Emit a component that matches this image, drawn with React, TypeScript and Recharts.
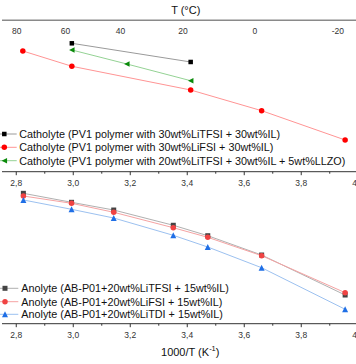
import { LineChart, Line, XAxis, YAxis, Legend } from "recharts";

const FONT = "'Liberation Sans', Arial, sans-serif";

const cathTfsiX = [2.995, 3.412];
const cathTfsiY = [-3.456, -3.826];
const cathFsiX = [2.823, 2.995, 3.412, 3.661, 3.954];
const cathFsiY = [-3.608, -3.911, -4.381, -4.791, -5.372];
const cathLlzoX = [2.995, 3.188, 3.412];
const cathLlzoY = [-3.588, -3.866, -4.197];

const anoX = [2.825, 2.994, 3.142, 3.351, 3.472, 3.661, 3.954];
const anoTfsiY = [-3.15, -3.312, -3.451, -3.726, -3.914, -4.262, -4.983];
const anoFsiY = [-3.198, -3.33, -3.492, -3.77, -3.943, -4.274, -4.941];
const anoTdiY = [-3.27, -3.438, -3.595, -3.907, -4.118, -4.491, -5.24];

const invTicks = [2.8, 2.9, 3.0, 3.1, 3.2, 3.3, 3.4, 3.5, 3.6, 3.7, 3.8, 3.9, 4.0];
const tempTicks = [80, 60, 40, 20, 0, -20];

const toPts = (xs: number[], ys: number[]) => xs.map((x, i) => ({ x, y: ys[i] }));

type Shape = "square" | "circle" | "triLeft" | "triUp";
interface Series {
  name: string;
  data: { x: number; y: number }[];
  shape: Shape;
  size: number;
  fill: string;
  line: string;
}

const catholyte: Series[] = [
  { name: "Catholyte (PV1 polymer with 30wt%LiTFSI + 30wt%IL)", data: toPts(cathTfsiX, cathTfsiY), shape: "square", size: 4.5, fill: "#000000", line: "#9a9a9a" },
  { name: "Catholyte (PV1 polymer with 30wt%LiFSI + 30wt%IL)", data: toPts(cathFsiX, cathFsiY), shape: "circle", size: 5.5, fill: "#ff0000", line: "#ff9494" },
  { name: "Catholyte (PV1 polymer with 20wt%LiTFSI + 30wt%IL + 5wt%LLZO)", data: toPts(cathLlzoX, cathLlzoY), shape: "triLeft", size: 5.5, fill: "#0a8a0a", line: "#94d294" },
];

const anolyte: Series[] = [
  { name: "Anolyte (AB-P01+20wt%LiTFSI + 15wt%IL)", data: toPts(anoX, anoTfsiY), shape: "square", size: 5, fill: "#444444", line: "#b0b0b0" },
  { name: "Anolyte (AB-P01+20wt%LiFSI + 15wt%IL)", data: toPts(anoX, anoFsiY), shape: "circle", size: 5.5, fill: "#f04343", line: "#f5a3a3" },
  { name: "Anolyte (AB-P01+20wt%LiTDI + 15wt%IL)", data: toPts(anoX, anoTdiY), shape: "triUp", size: 6, fill: "#1f6fe6", line: "#9cc1f0" },
];

function Marker({ shape, cx, cy, size, fill }: { shape: Shape; cx: number; cy: number; size: number; fill: string }) {
  const h = size / 2;
  if (shape === "square") return <rect x={cx - h} y={cy - h} width={size} height={size} fill={fill} />;
  if (shape === "circle") return <circle cx={cx} cy={cy} r={h} fill={fill} />;
  if (shape === "triLeft")
    return <polygon points={`${cx - h},${cy} ${cx + h},${cy - h} ${cx + h},${cy + h}`} fill={fill} />;
  return <polygon points={`${cx},${cy - h} ${cx + h},${cy + h} ${cx - h},${cy + h}`} fill={fill} />;
}

const fmtInv = (v: number) => (Math.abs(v - 4) < 1e-6 ? "4,0" : v.toFixed(1).replace(".", ","));

function InvTick({ x, y, payload }: any) {
  const v = payload.value as number;
  const major = Math.round(v * 10) % 2 === 0;
  return (
    <g>
      <line x1={x} y1={y} x2={x} y2={y + (major ? 3.5 : 2)} stroke="#333" strokeWidth={1} />
      {major && (
        <text x={x} y={y + 14} textAnchor="middle" fontSize={8.5} fill="#333" fontFamily={FONT}>
          {fmtInv(v)}
        </text>
      )}
    </g>
  );
}

// labels of the top temperature axis sit just below its line
function TempTick({ x, payload }: any) {
  const t = Math.round(1000 / payload.value - 273.15);
  return (
    <text x={x} y={33.7} textAnchor="middle" fontSize={8.5} fill="#333" fontFamily={FONT}>
      {t}
    </text>
  );
}

function makeLegend(series: Series[], markerX: number, lineEnd: number, textX: number, rows: number[]) {
  return () => (
    <svg width={340} height={42} style={{ overflow: "visible" }}>
      {series.map((s, i) => (
        <g key={s.name}>
          <line x1={-8} y1={rows[i]} x2={lineEnd} y2={rows[i]} stroke={s.line} strokeWidth={1} />
          <Marker shape={s.shape} cx={markerX} cy={rows[i]} size={s.size} fill={s.fill} />
          <text x={textX} y={rows[i] + 3.9} fontSize={10.8} fill="#111" fontFamily={FONT}>
            {s.name}
          </text>
        </g>
      ))}
    </svg>
  );
}

function renderLines(series: Series[], xAxisId: string) {
  return series.map((s) => (
    <Line
      key={s.name}
      xAxisId={xAxisId}
      data={s.data}
      dataKey="y"
      name={s.name}
      stroke={s.line}
      strokeWidth={1}
      isAnimationActive={false}
      dot={(p: any) => <Marker key={p.index} shape={s.shape} cx={p.cx} cy={p.cy} size={s.size} fill={s.fill} />}
      activeDot={false}
    />
  ));
}

const tempTickVals = tempTicks.map((t) => 1000 / (t + 273.15));
// invisible carrier so the temperature axis gets a scale and ticks
const tempAxisData = tempTickVals.map((x) => ({ x, y: -6 }));

export default function App() {
  return (
    <div
      style={{
        position: "fixed",
        left: 0,
        top: 0,
        width: 356,
        height: 364,
        overflow: "hidden",
        background: "#fff",
        fontFamily: FONT,
      }}
    >
      <div style={{ position: "absolute", left: 2, top: 0 }}>
        <LineChart width={370.5} height={191.7} margin={{ top: 0, right: 0, bottom: 0, left: 0 }}>
          <XAxis
            xAxisId="T"
            orientation="top"
            type="number"
            dataKey="x"
            domain={[2.7802, 4.0712]}
            allowDataOverflow
            ticks={tempTickVals}
            height={20.3}
            tickSize={0}
            tickMargin={0}
            tickLine={false}
            axisLine={{ stroke: "#8a8a8a", strokeWidth: 1.5 }}
            tick={<TempTick />}
            interval={0}
            label={{
              content: (p: any) => {
                const vb = p.viewBox || { x: 0, width: 370.5 };
                return (
                  <text x={vb.x + vb.width / 2 - 1.5} y={14.5} textAnchor="middle" fontSize={11} fill="#111" fontFamily={FONT}>
                    T (°C)
                  </text>
                );
              },
            }}
          />
          <XAxis
            xAxisId="inv"
            type="number"
            dataKey="x"
            domain={[2.75, 4.05]}
            allowDataOverflow
            ticks={invTicks}
            interval={0}
            height={20}
            tickSize={0}
            tickMargin={0}
            tickLine={false}
            axisLine={{ stroke: "#333", strokeWidth: 1 }}
            tick={<InvTick />}
          />
          <YAxis type="number" domain={[-6, -3]} hide allowDataOverflow />
          <Legend
            layout="vertical"
            align="center"
            verticalAlign="middle"
            wrapperStyle={{ left: -2, top: 127, width: 340, height: 42 }}
            content={makeLegend(catholyte, 4.3, 16.7, 19.3, [7, 20.3, 33.7])}
          />
          <Line
            xAxisId="T"
            data={tempAxisData}
            dataKey="y"
            stroke="none"
            dot={false}
            activeDot={false}
            legendType="none"
            isAnimationActive={false}
          />
          {renderLines(catholyte, "inv")}
        </LineChart>
      </div>

      <div style={{ position: "absolute", left: 2, top: 172 }}>
        <LineChart width={370.5} height={192} margin={{ top: 13, right: 0, bottom: 0, left: 0 }}>
          <XAxis
            xAxisId="inv"
            type="number"
            dataKey="x"
            domain={[2.75, 4.05]}
            allowDataOverflow
            ticks={invTicks}
            interval={0}
            height={40.3}
            tickSize={0}
            tickMargin={0}
            tickLine={false}
            axisLine={{ stroke: "#333", strokeWidth: 1 }}
            tick={<InvTick />}
            label={{
              content: (p: any) => {
                const vb = p.viewBox || { x: 0, y: 151.7, width: 370.5 };
                return (
                  <text x={vb.x + vb.width / 2 + 3} y={vb.y + 32} textAnchor="middle" fontSize={11} fill="#111" fontFamily={FONT}>
                    1000/T (K
                    <tspan fontSize={7.5} dy={-4.5}>-1</tspan>
                    <tspan dy={4.5}>)</tspan>
                  </text>
                );
              },
            }}
          />
          <YAxis type="number" domain={[-5.5, -3]} hide allowDataOverflow />
          <Legend
            layout="vertical"
            align="center"
            verticalAlign="middle"
            wrapperStyle={{ left: -2, top: 109, width: 340, height: 42 }}
            content={makeLegend(anolyte, 5, 18.3, 21.3, [7.3, 20.7, 33.3])}
          />
          {renderLines(anolyte, "inv")}
        </LineChart>
      </div>
    </div>
  );
}
